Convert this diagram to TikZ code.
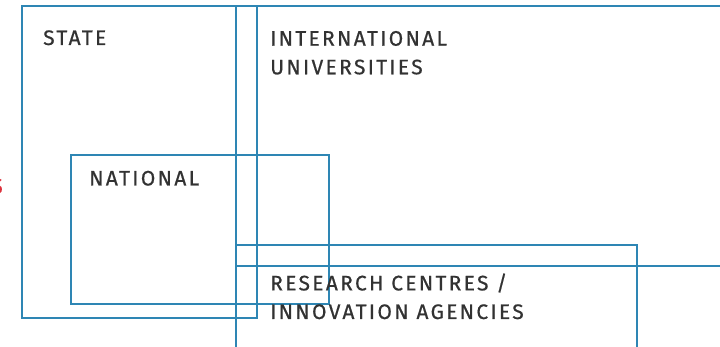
\documentclass[tikz,border=0pt]{standalone}
\usepackage{fontspec}
\setmainfont[LetterSpace=11,FakeBold=0.6]{Fira Sans}
\definecolor{lineblue}{RGB}{46,134,180}
\definecolor{textgray}{RGB}{50,50,50}
\definecolor{markred}{RGB}{220,50,60}
\begin{document}
\begin{tikzpicture}[x=1pt,y=-1pt,
  box/.style={draw=lineblue,line width=1.6pt,anchor=north west,inner sep=0pt,outer sep=0pt},
  thickbox/.style={box,line width=2.7pt},
  lbl/.style={text=textgray,font=\fontsize{21}{28.6}\selectfont,anchor=base west,inner sep=0pt,align=left}]
\useasboundingbox (0,0) rectangle (720,347);
\clip (0,0) rectangle (720,347);
\node[thickbox,minimum width=235pt,minimum height=312pt] (state) at (22,6) {};
\node[box,minimum width=500pt,minimum height=260pt] (intl) at (236,6) {};
\node[box,minimum width=258pt,minimum height=149pt] (national) at (71,155) {};
\node[box,minimum width=401pt,minimum height=130pt] (research) at (236,245) {};
\node[lbl] (statelbl) at (43,45) {STATE};
\node[lbl] (intllbl) at (270,74.3) {INTERNATIONAL\\UNIVERSITIES};
\node[lbl] (natlbl) at (89,185.5) {NATIONAL};
\node[lbl] (reslbl) at (270,319) {RESEARCH CENTRES /\\INNOVATION AGENCIES};
\node[text=markred,font=\fontsize{22}{26}\selectfont,anchor=east,inner sep=0pt] (mark) at (3,186) {S};
\end{tikzpicture}
\end{document}
